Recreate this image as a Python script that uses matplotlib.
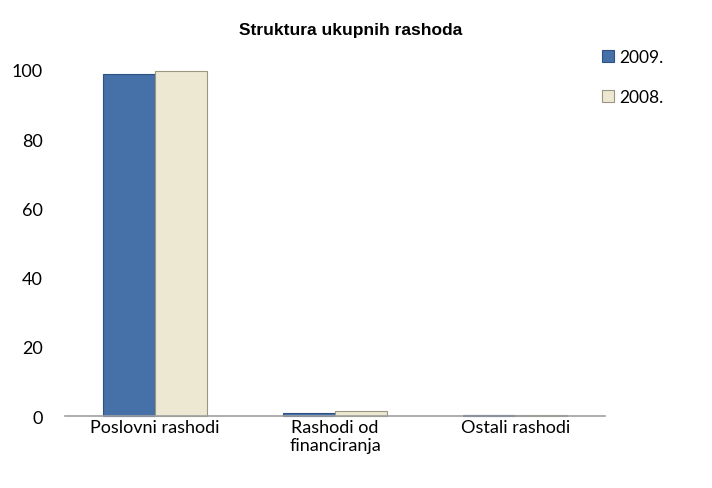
import numpy as np
import matplotlib.pyplot as plt

categories = ["Poslovni rashodi", "Rashodi od\nfinanciranja", "Ostali rashodi"]
series_names = ["2009.", "2008."]
values_2009 = [98.9, 1.0, 0.3]
values_2008 = [99.6, 1.4, 0.3]

fig = plt.figure(figsize=(7.12, 4.89), dpi=100)
ax = fig.add_axes([0.091, 0.147, 0.759, 0.708])

x = np.arange(len(categories))
w = 0.29
ax.bar(x - w / 2, values_2009, w, color="#4570A8", edgecolor="#2E5283", linewidth=0.8,
       label=series_names[0], clip_on=False)
ax.bar(x + w / 2, values_2008, w, color="#ECE8D2", edgecolor="#9A967F", linewidth=0.8,
       label=series_names[1], clip_on=False)

ax.set_xlim(-0.5, 2.5)
ax.set_ylim(0, 100)
ax.set_yticks([0, 20, 40, 60, 80, 100])
ax.set_xticks(x)
ax.set_xticklabels(categories, fontsize=13, family="Lato", linespacing=1.15)
for lbl in ax.get_yticklabels():
    lbl.set_family("Lato")
    lbl.set_fontsize(13)
ax.tick_params(axis="x", length=0, pad=2)
ax.tick_params(axis="y", length=0, pad=16)

for s in ["top", "right", "left"]:
    ax.spines[s].set_visible(False)
ax.spines["bottom"].set_color("#A0A0A0")
ax.spines["bottom"].set_linewidth(1.2)

fig.text(0.492, 0.938, "Struktura ukupnih rashoda", ha="center", va="center",
         fontsize=12.5, fontweight="bold", family="Liberation Sans")

ax.legend(loc="upper left", bbox_to_anchor=(0.965, 1.105), frameon=False,
          handlelength=0.7, handleheight=0.7, handletextpad=0.3,
          labelspacing=1.4, prop={"family": "Lato", "size": 12.5})

fig.savefig("out.png", dpi=100)
